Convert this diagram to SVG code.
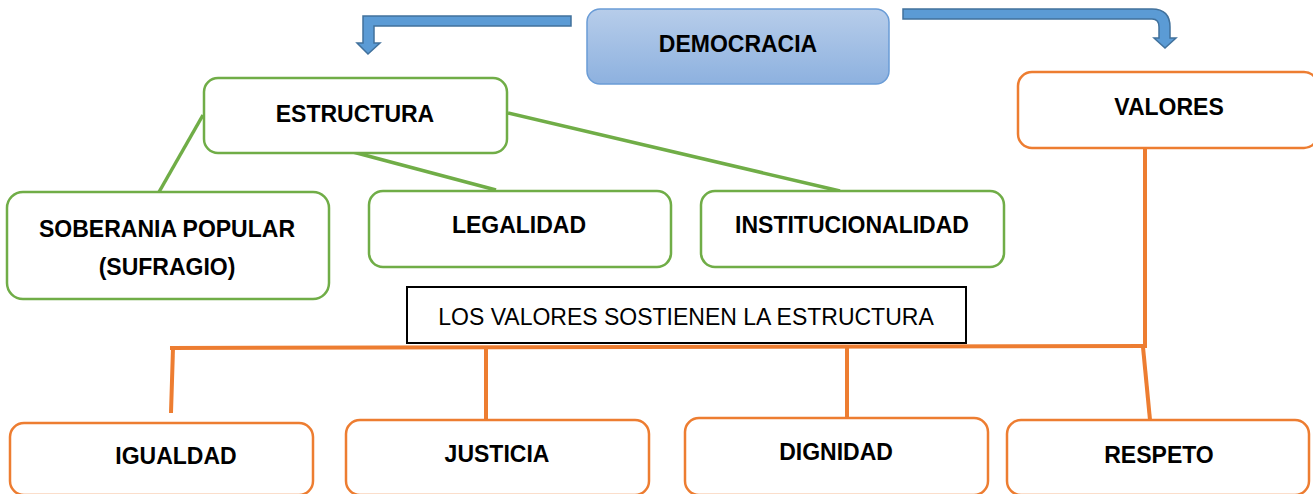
<svg xmlns="http://www.w3.org/2000/svg" width="1313" height="494" viewBox="0 0 1313 494">
<defs>
<linearGradient id="gBlue" x1="0" y1="0" x2="0" y2="1">
<stop offset="0" stop-color="#b7cdea"/>
<stop offset="1" stop-color="#8db1df"/>
</linearGradient>
<style>
.g{fill:#fff;stroke:#70ad47;stroke-width:2.5}
.o{fill:#fff;stroke:#ed7d31;stroke-width:2.5}
.t{font-family:"Liberation Sans",Arial,sans-serif;font-weight:bold;font-size:23px;fill:#000;text-anchor:middle}
.r{font-family:"Liberation Sans",Arial,sans-serif;font-size:23px;fill:#000;text-anchor:middle}
.gl{stroke:#70ad47;stroke-width:3.5;fill:none}
.ol{stroke:#ed7d31;stroke-width:4;fill:none}
.ar{fill:#5b9bd5;stroke:#41719c;stroke-width:1.5}
</style>
</defs>
<rect width="1313" height="494" fill="#fff"/>
<g id="connectors">
<path class="ar" d="M571,16 V26 H374 V43 H380 L368,54 L357,43 H363 V16 Z"/>
<path class="ar" d="M903,9 H1152 Q1170,9 1170,27 V38 H1176 L1165,48 L1154,38 H1159 V27 Q1159,19 1152,19 H903 Z"/>
<line class="gl" x1="203" y1="115" x2="159" y2="192"/>
<line class="gl" x1="353" y1="152" x2="496" y2="190"/>
<line class="gl" x1="508" y1="113" x2="840" y2="191"/>
<line class="ol" x1="1145" y1="148" x2="1145" y2="348"/>
<line class="ol" x1="170" y1="348" x2="1147" y2="346"/>
<line class="ol" x1="173" y1="348" x2="171" y2="413"/>
<line class="ol" x1="486" y1="348" x2="486" y2="420"/>
<line class="ol" x1="847" y1="347" x2="847" y2="417"/>
<line class="ol" x1="1143" y1="347" x2="1150" y2="420"/>
</g>
<g id="democracia">
<rect x="587" y="9" width="302" height="75" rx="13" fill="url(#gBlue)" stroke="#6a9cd6" stroke-width="1.5"/>
<text class="t" x="738" y="52">DEMOCRACIA</text>
</g>
<g id="estructura">
<rect class="g" x="204" y="78" width="303" height="75" rx="14"/>
<text class="t" x="355" y="122">ESTRUCTURA</text>
</g>
<g id="soberania">
<rect class="g" x="7" y="192" width="322" height="107" rx="16"/>
<text class="t" x="167" y="237">SOBERANIA POPULAR</text>
<text class="t" x="167" y="275">(SUFRAGIO)</text>
</g>
<g id="legalidad">
<rect class="g" x="369" y="191" width="302" height="76" rx="14"/>
<text class="t" x="519" y="233">LEGALIDAD</text>
</g>
<g id="institucionalidad">
<rect class="g" x="701" y="191" width="303" height="76" rx="14"/>
<text class="t" x="852" y="233">INSTITUCIONALIDAD</text>
</g>
<g id="valores">
<rect class="o" x="1018" y="72" width="300" height="76" rx="14"/>
<text class="t" x="1169" y="115">VALORES</text>
</g>
<g id="nota">
<rect x="407" y="287" width="559" height="56" fill="#fff" stroke="#000" stroke-width="2"/>
<text class="r" x="686" y="325">LOS VALORES SOSTIENEN LA ESTRUCTURA</text>
</g>
<g id="igualdad">
<rect class="o" x="10" y="423" width="303" height="72" rx="14"/>
<text class="t" x="176" y="464">IGUALDAD</text>
</g>
<g id="justicia">
<rect class="o" x="346" y="420" width="303" height="75" rx="14"/>
<text class="t" x="497" y="462">JUSTICIA</text>
</g>
<g id="dignidad">
<rect class="o" x="685" y="418" width="303" height="77" rx="14"/>
<text class="t" x="836" y="460">DIGNIDAD</text>
</g>
<g id="respeto">
<rect class="o" x="1007" y="420" width="302" height="75" rx="14"/>
<text class="t" x="1159" y="463">RESPETO</text>
</g>
</svg>
